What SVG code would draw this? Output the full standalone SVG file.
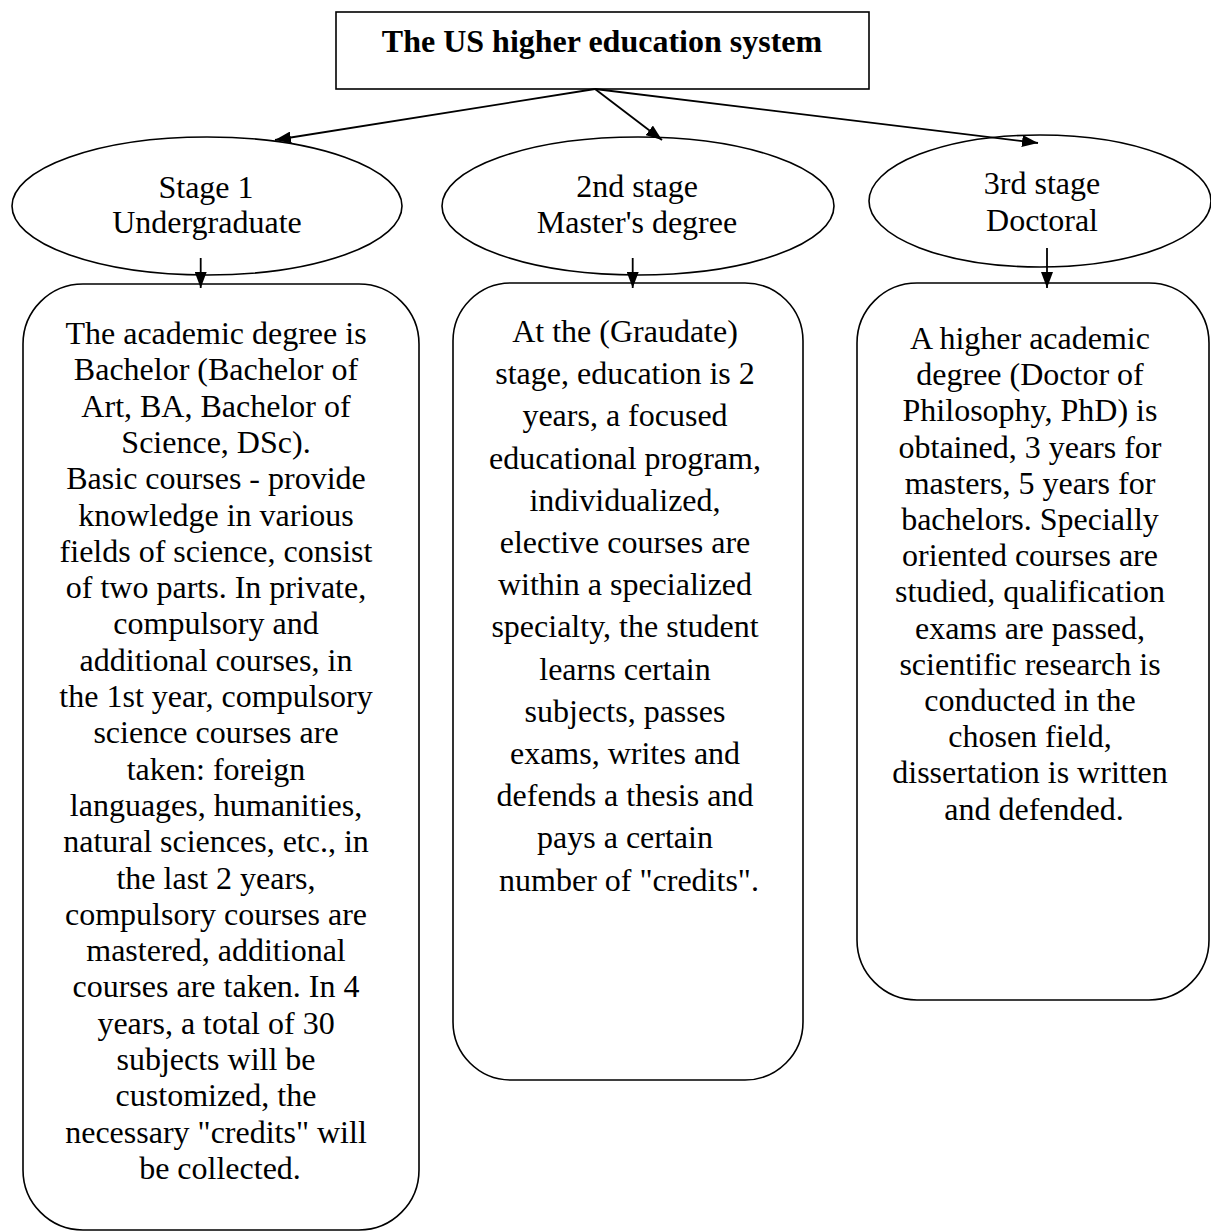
<svg xmlns="http://www.w3.org/2000/svg" width="1211" height="1232" viewBox="0 0 1211 1232">
<defs>
<style>
.shape{fill:#fff;stroke:#000;stroke-width:1.6}
.t{font-family:"Liberation Serif","Times New Roman",serif;font-size:32px;fill:#000;text-anchor:middle}
.b{font-weight:bold}
.c{fill:none;stroke:#000;stroke-width:1.8}
</style>
<marker id="ah" viewBox="0 0 16 12" refX="16" refY="6" markerWidth="16" markerHeight="12" markerUnits="userSpaceOnUse" orient="auto">
<path d="M0,0 L16,6 L0,12 Z" fill="#000"/>
</marker>
</defs>
<rect width="1211" height="1232" fill="#fff"/>
<g id="title">
<rect class="shape" x="336" y="12" width="533" height="77"/>
<text class="t b" x="602" y="52">The US higher education system</text>
</g>
<g id="stage1">
<ellipse class="shape" cx="207" cy="206" rx="195" ry="69"/>
<text class="t" x="206" y="198">Stage 1</text>
<text class="t" x="207" y="233">Undergraduate</text>
</g>
<g id="stage2">
<ellipse class="shape" cx="638" cy="206" rx="196" ry="69"/>
<text class="t" x="637" y="197">2nd stage</text>
<text class="t" x="637" y="233">Master's degree</text>
</g>
<g id="stage3">
<ellipse class="shape" cx="1040" cy="201" rx="171" ry="66"/>
<text class="t" x="1042" y="194">3rd stage</text>
<text class="t" x="1042" y="231">Doctoral</text>
</g>
<g id="desc1">
<rect class="shape" x="23" y="284" width="396" height="946" rx="60" ry="60"/>
<text class="t" x="220">
<tspan x="220" y="344">The academic degree is</tspan>
<tspan x="220" y="380.3">Bachelor (Bachelor of</tspan>
<tspan x="220" y="416.6">Art, BA, Bachelor of</tspan>
<tspan x="220" y="452.9">Science, DSc).</tspan>
<tspan x="220" y="489.2">Basic courses - provide</tspan>
<tspan x="220" y="525.5">knowledge in various</tspan>
<tspan x="220" y="561.8">fields of science, consist</tspan>
<tspan x="220" y="598.1">of two parts. In private,</tspan>
<tspan x="220" y="634.4">compulsory and</tspan>
<tspan x="220" y="670.7">additional courses, in</tspan>
<tspan x="220" y="707">the 1st year, compulsory</tspan>
<tspan x="220" y="743.3">science courses are</tspan>
<tspan x="220" y="779.6">taken: foreign</tspan>
<tspan x="220" y="815.9">languages, humanities,</tspan>
<tspan x="220" y="852.2">natural sciences, etc., in</tspan>
<tspan x="220" y="888.5">the last 2 years,</tspan>
<tspan x="220" y="924.8">compulsory courses are</tspan>
<tspan x="220" y="961.1">mastered, additional</tspan>
<tspan x="220" y="997.4">courses are taken. In 4</tspan>
<tspan x="220" y="1033.7">years, a total of 30</tspan>
<tspan x="220" y="1070">subjects will be</tspan>
<tspan x="220" y="1106.3">customized, the</tspan>
<tspan x="220" y="1142.6">necessary "credits" will</tspan>
<tspan x="220" y="1178.9">be collected.</tspan>
</text>
</g>
<g id="desc2">
<rect class="shape" x="453" y="283" width="350" height="797" rx="58" ry="58"/>
<text class="t" x="629">
<tspan x="629" y="342">At the (Graudate)</tspan>
<tspan x="629" y="384.2">stage, education is 2</tspan>
<tspan x="629" y="426.4">years, a focused</tspan>
<tspan x="629" y="468.6">educational program,</tspan>
<tspan x="629" y="510.8">individualized,</tspan>
<tspan x="629" y="553">elective courses are</tspan>
<tspan x="629" y="595.2">within a specialized</tspan>
<tspan x="629" y="637.4">specialty, the student</tspan>
<tspan x="629" y="679.6">learns certain</tspan>
<tspan x="629" y="721.8">subjects, passes</tspan>
<tspan x="629" y="764">exams, writes and</tspan>
<tspan x="629" y="806.2">defends a thesis and</tspan>
<tspan x="629" y="848.4">pays a certain</tspan>
<tspan x="629" y="890.6">number of "credits".</tspan>
</text>
</g>
<g id="desc3">
<rect class="shape" x="857" y="283" width="352" height="717" rx="60" ry="60"/>
<text class="t" x="1034">
<tspan x="1034" y="349">A higher academic</tspan>
<tspan x="1034" y="385.2">degree (Doctor of</tspan>
<tspan x="1034" y="421.4">Philosophy, PhD) is</tspan>
<tspan x="1034" y="457.6">obtained, 3 years for</tspan>
<tspan x="1034" y="493.8">masters, 5 years for</tspan>
<tspan x="1034" y="530">bachelors. Specially</tspan>
<tspan x="1034" y="566.2">oriented courses are</tspan>
<tspan x="1034" y="602.4">studied, qualification</tspan>
<tspan x="1034" y="638.6">exams are passed,</tspan>
<tspan x="1034" y="674.8">scientific research is</tspan>
<tspan x="1034" y="711">conducted in the</tspan>
<tspan x="1034" y="747.2">chosen field,</tspan>
<tspan x="1034" y="783.4">dissertation is written</tspan>
<tspan x="1034" y="819.6">and defended.</tspan>
</text>
</g>
<g id="connectors">
<path class="c" d="M595,89 L275,140" marker-end="url(#ah)"/>
<path class="c" d="M595,89 L662,140" marker-end="url(#ah)"/>
<path class="c" d="M595,89 L1038,143" marker-end="url(#ah)"/>
<path class="c" d="M200.7,258 L200.7,288" marker-end="url(#ah)"/>
<path class="c" d="M632.7,258 L632.7,288" marker-end="url(#ah)"/>
<path class="c" d="M1047,248 L1047,288" marker-end="url(#ah)"/>
</g>
</svg>
